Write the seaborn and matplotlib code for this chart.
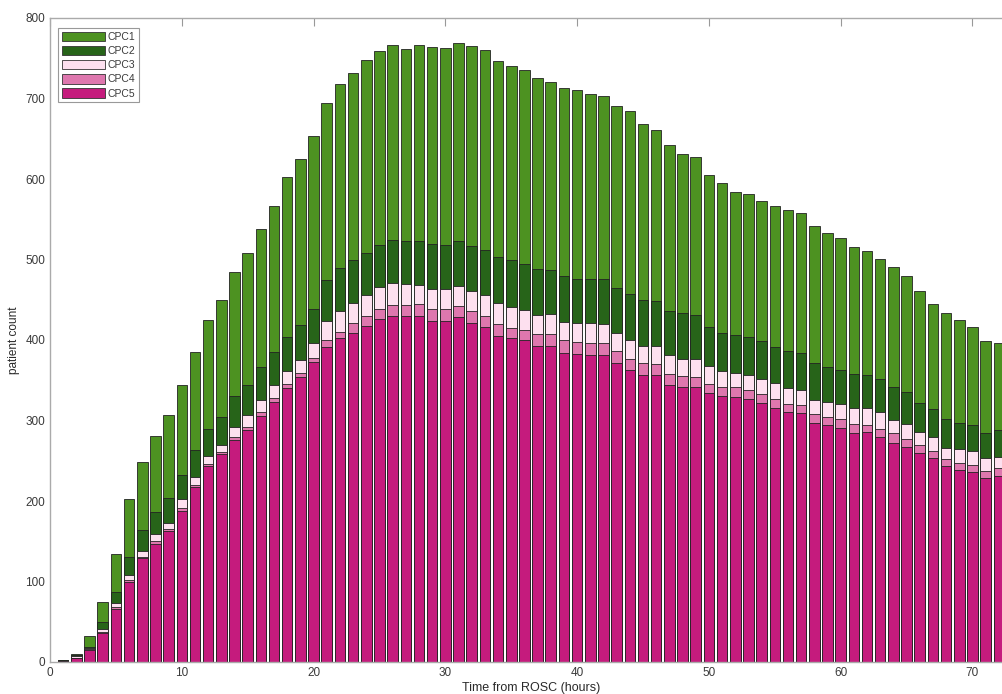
import numpy as np
import pandas as pd
import matplotlib
matplotlib.use("Agg")
import matplotlib.pyplot as plt
from matplotlib.patches import Patch
import seaborn as sns

hours = list(range(1, 73))
cpc5 = [1, 5, 15, 36, 66, 100, 129, 147, 163, 188, 217, 243, 258, 276, 288, 305, 323, 340,
        354, 373, 391, 402, 409, 417, 426, 430, 430, 430, 424, 424, 428, 421, 416, 405, 402, 400,
        393, 393, 384, 383, 381, 381, 371, 363, 356, 356, 344, 342, 341, 334, 330, 329, 327, 322,
        316, 311, 309, 297, 294, 291, 285, 286, 280, 272, 267, 260, 253, 243, 238, 236, 228, 231]
cpc4 = [0, 0, 1, 1, 2, 2, 2, 3, 2, 3, 3, 3, 3, 3, 4, 5, 5, 5,
        5, 5, 9, 8, 12, 13, 13, 14, 13, 15, 14, 14, 14, 15, 14, 15, 13, 13,
        14, 14, 16, 15, 15, 15, 15, 14, 15, 14, 14, 13, 13, 11, 11, 12, 11, 11,
        11, 10, 10, 11, 10, 11, 11, 8, 10, 12, 10, 9, 9, 9, 9, 9, 9, 10]
cpc3 = [0, 2, 1, 4, 5, 6, 7, 9, 8, 11, 10, 10, 9, 13, 15, 15, 16, 17,
        16, 18, 24, 26, 25, 26, 27, 27, 26, 23, 25, 25, 25, 25, 26, 26, 26, 24,
        24, 25, 22, 23, 25, 24, 23, 23, 22, 23, 23, 22, 22, 23, 20, 18, 18, 19,
        20, 19, 19, 18, 19, 18, 19, 21, 20, 17, 19, 17, 17, 14, 17, 17, 17, 14]
cpc2 = [2, 2, 2, 9, 14, 23, 26, 27, 31, 30, 33, 34, 34, 38, 37, 41, 41, 42,
        44, 43, 50, 53, 53, 52, 52, 53, 54, 55, 56, 55, 56, 56, 56, 57, 58, 58,
        57, 55, 57, 55, 55, 56, 55, 57, 57, 56, 55, 56, 55, 48, 48, 47, 48, 47,
        44, 46, 46, 46, 43, 43, 43, 42, 41, 41, 39, 36, 35, 36, 33, 33, 30, 33]
cpc1 = [0, 1, 13, 24, 47, 72, 84, 95, 103, 112, 122, 135, 146, 154, 164, 172, 181, 199,
        206, 215, 220, 229, 233, 240, 241, 243, 238, 244, 245, 245, 246, 248, 248, 244, 241, 240,
        237, 234, 234, 234, 230, 227, 227, 227, 218, 212, 206, 198, 196, 189, 186, 178, 177, 174,
        175, 175, 174, 169, 167, 164, 158, 154, 150, 149, 145, 139, 131, 132, 128, 121, 115, 108]

labels = ["CPC1", "CPC2", "CPC3", "CPC4", "CPC5"]
colors = ["#4d9221", "#276419", "#fde0ef", "#de77ae", "#c51b7d"]
x_ticks = [0, 10, 20, 30, 40, 50, 60, 70]
y_ticks = [0, 100, 200, 300, 400, 500, 600, 700, 800]

sns.set_style("white")
plt.rcParams["font.family"] = ["Liberation Sans", "DejaVu Sans"]

df = pd.DataFrame({"hour": hours, "CPC5": cpc5, "CPC4": cpc4, "CPC3": cpc3,
                   "CPC2": cpc2, "CPC1": cpc1})
# cumulative tops, bottom-up CPC5 -> CPC1
order_bottom_up = ["CPC5", "CPC4", "CPC3", "CPC2", "CPC1"]
cum = df[order_bottom_up].cumsum(axis=1)

fig = plt.figure(figsize=(10.02, 6.94), dpi=100)
ax = fig.add_axes([50 / 1002, 32 / 694, 962 / 1002, 644 / 694])

col_of = dict(zip(labels, colors))
for name in order_bottom_up[::-1]:
    sns.barplot(x=df["hour"], y=cum[name], native_scale=True, width=0.8,
                color=col_of[name], saturation=1, edgecolor="#222222",
                linewidth=0.6, errorbar=None, ax=ax)

ax.set_xlim(0, 73)
ax.set_ylim(0, 800)
ax.set_xticks(x_ticks)
ax.set_yticks(y_ticks)
ax.set_xticklabels([str(t) for t in x_ticks])
ax.set_yticklabels([str(t) for t in y_ticks])
ax.tick_params(direction="in", length=6, width=0.8, colors="#999999",
               labelcolor="#3a3a3a", labelsize=8.5, top=True, right=False)
for s in ["left", "bottom", "top"]:
    ax.spines[s].set_visible(True)
    ax.spines[s].set_color("#aaaaaa")
    ax.spines[s].set_linewidth(1.0)
ax.spines["right"].set_visible(False)
ax.set_xlabel("Time from ROSC (hours)", fontsize=9, color="#2a2a2a", labelpad=2)
ax.set_ylabel("patient count", fontsize=8.5, color="#2a2a2a", labelpad=4)

handles = [Patch(facecolor=c, edgecolor="#333333", linewidth=0.6) for c in colors]
leg = ax.legend(handles, labels, loc="upper left",
                bbox_to_anchor=(8 / 962, 1 - 10 / 644), borderaxespad=0,
                fontsize=7.5, handlelength=4.2, handleheight=1.0,
                labelspacing=0.38, handletextpad=0.25, borderpad=0.35,
                fancybox=False, framealpha=1, edgecolor="#999999")
leg.get_frame().set_linewidth(0.8)
for t in leg.get_texts():
    t.set_color("#3a3a3a")

fig.savefig("out.png", dpi=100)
